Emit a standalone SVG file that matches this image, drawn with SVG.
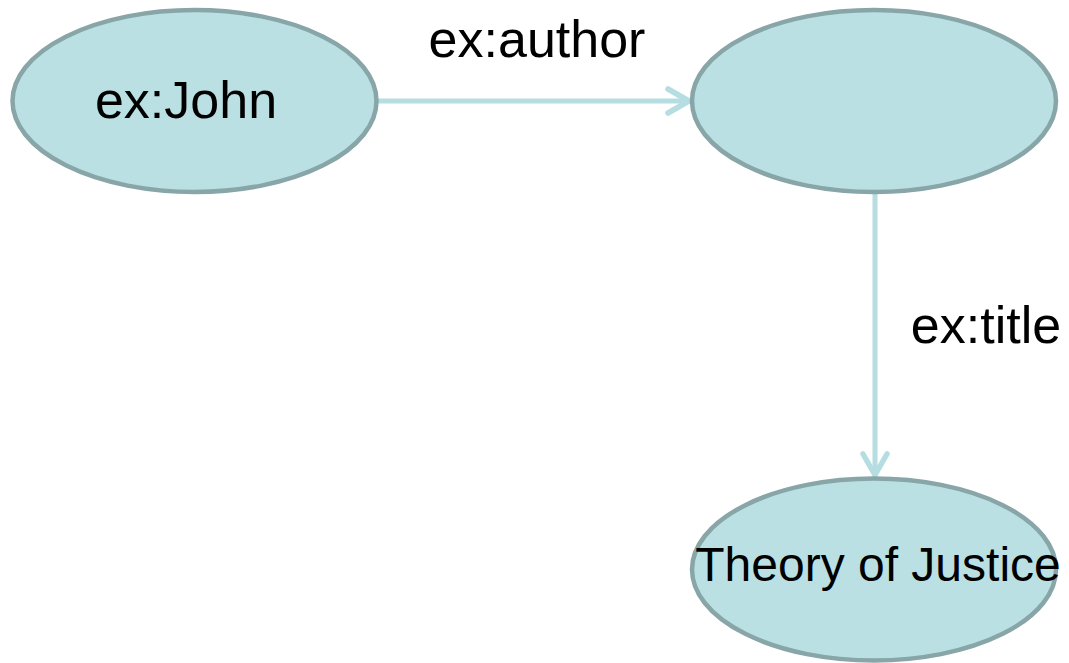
<svg xmlns="http://www.w3.org/2000/svg" width="1069" height="663" viewBox="0 0 1069 663">
  <style>
    .node { fill: #bae0e3; stroke: #88a5a8; stroke-width: 4.5; }
    .edge { fill: none; stroke: #b6dde1; stroke-width: 5; stroke-linecap: round; }
    .lbl { font-family: "Liberation Sans", Arial, sans-serif; fill: #000; }
  </style>
  <defs>
    <!-- open chevron head, drawn in user space so it keeps its size -->
    <marker id="arrow" viewBox="0 0 12 12" refX="11" refY="6" markerWidth="12" markerHeight="12" markerUnits="userSpaceOnUse" orient="auto" overflow="visible">
      <path d="M-10,-6 L11,6 L-10,18" fill="none" stroke="#b6dde1" stroke-width="5.5" stroke-linecap="round" stroke-linejoin="round"/>
    </marker>
  </defs>
  <rect width="1069" height="663" fill="#ffffff"/>
  <g id="connectors">
    <line class="edge" x1="377" y1="101" x2="689" y2="101" marker-end="url(#arrow)"/>
    <text class="lbl" x="537" y="57" font-size="52" text-anchor="middle">ex:author</text>
    <line class="edge" x1="875" y1="192" x2="875" y2="475" marker-end="url(#arrow)"/>
    <text class="lbl" x="986" y="343" font-size="52" text-anchor="middle">ex:title</text>
  </g>
  <g id="john">
    <ellipse class="node" cx="194.5" cy="101" rx="182" ry="91"/>
    <text class="lbl" x="186" y="118" font-size="52" text-anchor="middle">ex:John</text>
  </g>
  <g id="blank">
    <ellipse class="node" cx="874" cy="101" rx="182" ry="91"/>
  </g>
  <g id="theory">
    <ellipse class="node" cx="874" cy="569.5" rx="182" ry="91"/>
    <text class="lbl" x="878" y="581" font-size="48" text-anchor="middle">Theory of Justice</text>
  </g>
</svg>
